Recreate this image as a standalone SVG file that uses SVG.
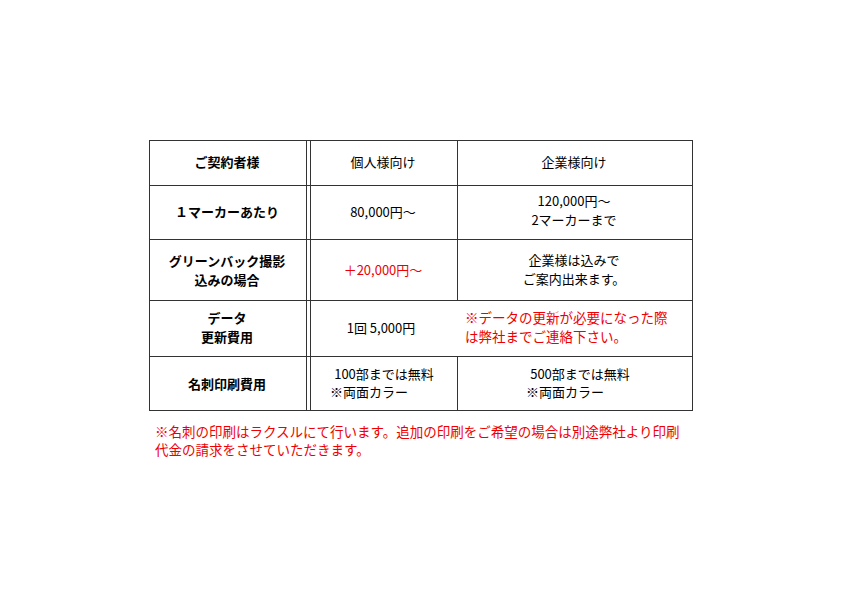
<svg xmlns="http://www.w3.org/2000/svg" width="842" height="595" viewBox="0 0 842 595">
<style>
text{font-family:"Noto Sans CJK JP",sans-serif;font-size:13px;fill:#000;text-anchor:middle}
.b{font-weight:bold}
.r{fill:#e00}
.l{text-anchor:start}
.n{font-size:13.5px}
line{stroke:#333;stroke-width:1}
</style>
<rect width="842" height="595" fill="#fff"/>
<g id="grid">
<rect x="149.5" y="140.5" width="543" height="270" fill="none" stroke="#333"/>
<line x1="149" y1="185.5" x2="692" y2="185.5"/>
<line x1="149" y1="239.5" x2="692" y2="239.5"/>
<line x1="149" y1="300.5" x2="692" y2="300.5"/>
<line x1="149" y1="356.5" x2="692" y2="356.5"/>
<line x1="306.5" y1="140" x2="306.5" y2="410" stroke="#000"/>
<line x1="310.5" y1="140" x2="310.5" y2="410" stroke="#000"/>
<line x1="457.5" y1="140" x2="457.5" y2="300"/>
<line x1="457.5" y1="356" x2="457.5" y2="410"/>
</g>
<g id="header">
<text class="b" x="227" y="167">ご契約者様</text>
<text x="383" y="167">個人様向け</text>
<text x="574" y="167">企業様向け</text>
</g>
<g id="row1">
<text class="b" x="227" y="217">１マーカーあたり</text>
<text x="383" y="217">80,000円～</text>
<text x="574" y="206">120,000円～</text>
<text x="574" y="225">2マーカーまで</text>
</g>
<g id="row2">
<text class="b" x="227" y="266">グリーンバック撮影</text>
<text class="b" x="227" y="285">込みの場合</text>
<text class="r" x="383" y="275">＋20,000円～</text>
<text x="574" y="265">企業様は込みで</text>
<text x="574" y="284">ご案内出来ます。</text>
</g>
<g id="row3">
<text class="b" x="227" y="323">データ</text>
<text class="b" x="227" y="342">更新費用</text>
<text x="381" y="333">1回 5,000円</text>
<text class="r l n" x="465" y="323">※データの更新が必要になった際</text>
<text class="r l n" x="465" y="342">は弊社までご連絡下さい。</text>
</g>
<g id="row4">
<text class="b" x="227" y="389">名刺印刷費用</text>
<text x="384" y="379">100部までは無料</text>
<text class="l" x="330" y="397">※両面カラー</text>
<text x="580" y="379">500部までは無料</text>
<text class="l" x="526" y="397">※両面カラー</text>
</g>
<g id="note">
<text class="r l n" x="155" y="437">※名刺の印刷はラクスルにて行います。追加の印刷をご希望の場合は別途弊社より印刷</text>
<text class="r l n" x="155" y="455">代金の請求をさせていただきます。</text>
</g>
</svg>
